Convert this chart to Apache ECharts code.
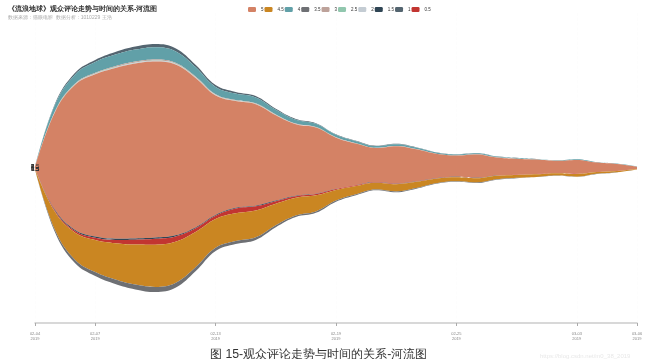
<!DOCTYPE html>
<html><head><meta charset="utf-8">
<script src="https://cdn.jsdelivr.net/npm/echarts@6/dist/echarts.min.js"></script>
<style>html,body{margin:0;padding:0;background:#fff}#c{width:650px;height:359px}</style>
</head><body><div id="c"></div>
<script>
const dateLabels = ['02-04','02-05','02-06','02-07','02-08','02-09','02-10','02-11','02-12','02-13','02-14','02-15','02-16','02-17','02-18','02-19','02-20','02-21','02-22','02-23','02-24','02-25','02-26','02-27','02-28','03-01','03-02','03-03','03-04','03-05','03-06'];
const tickLabels = ['02-04','02-07','02-13','02-19','02-25','03-03','03-06'];
const legendNames = ['5','4.5','4','3.5','3','2.5','2','1.5','1','0.5'];

const s5   = [20,920,1360,1520,1600,1640,1650,1600,1400,1120,1000,950,800,670,620,480,390,320,350,300,230,200,220,170,150,135,115,130,88,65,22];
const s4_5 = [4,170,255,300,340,375,395,385,330,270,260,250,200,165,150,100,78,64,68,58,42,38,40,33,28,25,22,25,17,12,4];
const s4   = [2,60,85,100,108,112,115,108,88,68,60,55,44,36,30,22,18,15,17,14,11,9,10,8,7,6,5,6,4,3,1];
const s3_5 = [1,22,32,38,42,45,48,46,38,30,28,26,20,16,14,10,8,6,7,6,5,4,4,3,3,2,2,2,1,1,0];
const s3   = [0,4,6,7,8,8,9,8,7,5,5,4,3,3,2,2,1,1,1,1,1,1,1,1,0,0,0,0,0,0,0];
const s2_5 = [0,2,3,3,4,4,4,4,3,3,2,2,2,1,1,1,1,0,0,0,0,0,0,0,0,0,0,0,0,0,0];
const s2   = [0,3,4,5,5,6,6,6,5,4,3,3,2,2,2,1,1,1,1,1,0,0,0,0,0,0,0,0,0,0,0];
const s1_5 = [0,8,10,12,12,12,12,11,9,8,7,6,5,4,3,2,2,1,1,1,1,1,1,1,0,0,0,0,0,0,0];
const s1   = [0,10,16,20,24,28,30,28,22,18,16,14,10,8,7,5,4,3,3,3,2,2,2,1,1,1,1,1,1,0,0];
const s0_5 = [1,10,15,20,30,45,55,50,35,30,45,40,25,15,12,8,6,5,5,4,3,3,3,2,2,2,1,2,1,1,0];

const seriesByName = {'5':s5,'4.5':s4_5,'4':s4,'3.5':s3_5,'3':s3,'2.5':s2_5,'2':s2,'1.5':s1_5,'1':s1,'0.5':s0_5};
const colorByName = {'5':'#d48265','4.5':'#ca8622','4':'#61a0a8','3.5':'#6e7074','3':'#bda29a','2.5':'#91c7ae','2':'#c4ccd3','1.5':'#2f4554','1':'#546570','0.5':'#c23531'};
// stacking order (layer 0 drawn at top)
const stackOrder = ['1','4','3','2.5','2','5','1.5','0.5','4.5','3.5'];

const data = [];
stackOrder.forEach(n => { seriesByName[n].forEach((v,i) => data.push([i, v, n])); });

const showIdx = i => tickLabels.indexOf(dateLabels[i]) >= 0;

const chart = echarts.init(document.getElementById('c'));
chart.setOption({
  animation:false,
  color: stackOrder.map(n => colorByName[n]),
  title:[{text:'《流浪地球》观众评论走势与时间的关系-河流图',subtext:'数据来源：猫眼电影  数据分析：1010229 王浩',left:3,top:1,itemGap:2,
    textStyle:{fontSize:7,fontWeight:'bold',color:'#333'},subtextStyle:{fontSize:5,color:'#aaa'}},
    {text:'图 15-观众评论走势与时间的关系-河流图',left:205,top:344,textStyle:{fontSize:12.3,fontWeight:'normal',color:'#333'}},
    {text:'https://blog.csdn.net/m0_38_2019',left:535,top:348,textStyle:{fontSize:6,fontWeight:'normal',color:'#e8e8e8'}}],
  legend:{data:legendNames,top:2,left:243,itemWidth:8,itemHeight:5,itemGap:1,textStyle:{fontSize:4.5,color:'#333'}},
  singleAxis:{type:'category',data:dateLabels,boundaryGap:false,top:13,bottom:36,left:35,right:13,
    axisLine:{lineStyle:{color:'#ccc',width:1.5}},
    axisTick:{length:3,interval:(i)=>showIdx(i),lineStyle:{color:'#aaa'}},
    axisLabel:{fontSize:4,color:'#888',lineHeight:5,interval:(i)=>showIdx(i),formatter:v=>v+'\n2019'},
    splitLine:{show:true,interval:(i)=>showIdx(i),lineStyle:{color:'#f0f0f0',width:0.8}}},
  series:[{type:'themeRiver',data:data,label:{fontSize:6,color:'#333'}}]
});
</script></body></html>
